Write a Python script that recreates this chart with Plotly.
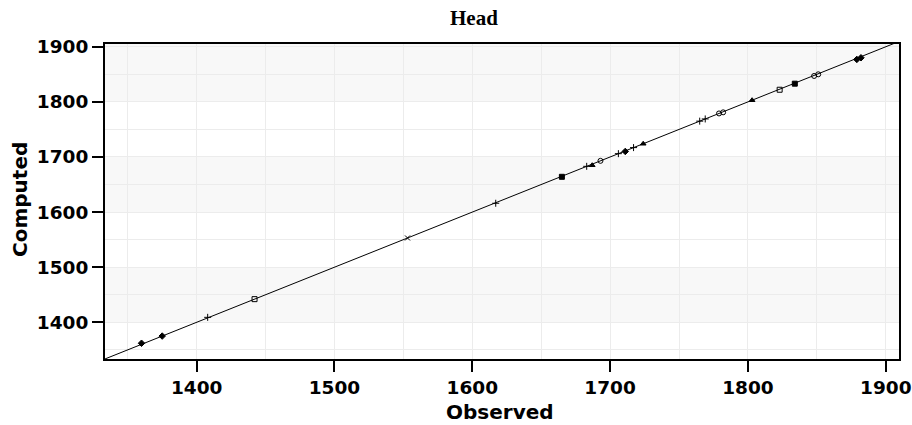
import plotly.graph_objects as go

# Observed vs computed head values, grouped by marker style
groups = [
    {"name": "A", "symbol": "diamond", "observed": [1360, 1375, 1711], "computed": [1362, 1375, 1710]},
    {"name": "B", "symbol": "cross-thin-open", "observed": [1408, 1617, 1683, 1706, 1717, 1765, 1769],
     "computed": [1409, 1616, 1683, 1706, 1717, 1765, 1769]},
    {"name": "C", "symbol": "square-open", "observed": [1442, 1823], "computed": [1442, 1822]},
    {"name": "D", "symbol": "x-thin-open", "observed": [1553], "computed": [1553]},
    {"name": "E", "symbol": "square", "observed": [1665, 1834], "computed": [1664, 1833]},
    {"name": "F", "symbol": "triangle-up", "observed": [1687, 1724, 1803], "computed": [1685, 1724, 1803]},
    {"name": "G", "symbol": "circle-open", "observed": [1693, 1779, 1782, 1848, 1851],
     "computed": [1693, 1779, 1781, 1847, 1850]},
    {"name": "H", "symbol": "diamond", "observed": [1879, 1882], "computed": [1877, 1880]},
]

# 1:1 reference line
line_x = [1300, 2000]
line_y = [1300, 2000]

# Shaded horizontal bands
band_lo = [1400, 1600, 1800]
band_hi = [1500, 1700, 1950]

x_range = [1333.5, 1909.6]
y_range = [1333.4, 1905.0]

fig = go.Figure()

fig.add_trace(go.Scatter(x=line_x, y=line_y, mode="lines",
                         line=dict(color="black", width=1), hoverinfo="skip"))

for g in groups:
    fig.add_trace(go.Scatter(
        x=g["observed"], y=g["computed"], mode="markers", name=g["name"],
        marker=dict(symbol=g["symbol"], size=5, color="black",
                    line=dict(color="black", width=1)),
    ))

for lo, hi in zip(band_lo, band_hi):
    fig.add_shape(type="rect", xref="paper", yref="y", x0=0, x1=1, y0=lo, y1=hi,
                  fillcolor="#f8f8f8", line=dict(width=0), layer="below")

tick_font = dict(family="DejaVu Sans", size=18.5, color="black", weight="bold")
title_font = dict(family="DejaVu Sans", size=20, color="black", weight="bold")
grid_col = "#ececec"

axis_common = dict(
    showline=True, linecolor="black", linewidth=2, mirror=True,
    ticks="outside", ticklen=11, tickwidth=1.5, tickcolor="black",
    showgrid=True, gridcolor=grid_col, gridwidth=1,
    zeroline=False, tickfont=tick_font, dtick=100,
    ticklabeloverflow="allow", automargin=False,
    minor=dict(dtick=50, showgrid=True, gridcolor=grid_col, gridwidth=1, ticks=""),
)

fig.update_layout(
    width=912, height=425,
    margin=dict(l=105, r=13, t=44, b=66, autoexpand=False),
    paper_bgcolor="white", plot_bgcolor="white",
    showlegend=False,
    xaxis=dict(range=x_range, tick0=1400, **axis_common),
    yaxis=dict(range=y_range, tick0=1400, **axis_common),
    annotations=[
        dict(text="Head", xref="paper", yref="paper", x=0.465, y=1.083,
             showarrow=False, xanchor="center", yanchor="middle",
             font=dict(family="Liberation Serif", size=21, color="black", weight="bold")),
        dict(text="Observed", xref="paper", yref="paper", x=0.4975, y=-0.168,
             showarrow=False, xanchor="center", yanchor="middle", font=title_font),
        dict(text="Computed", xref="paper", yref="paper", x=-0.107, y=0.505,
             showarrow=False, xanchor="center", yanchor="middle", textangle=-90,
             font=title_font),
    ],
)

fig.write_html("out.html")
